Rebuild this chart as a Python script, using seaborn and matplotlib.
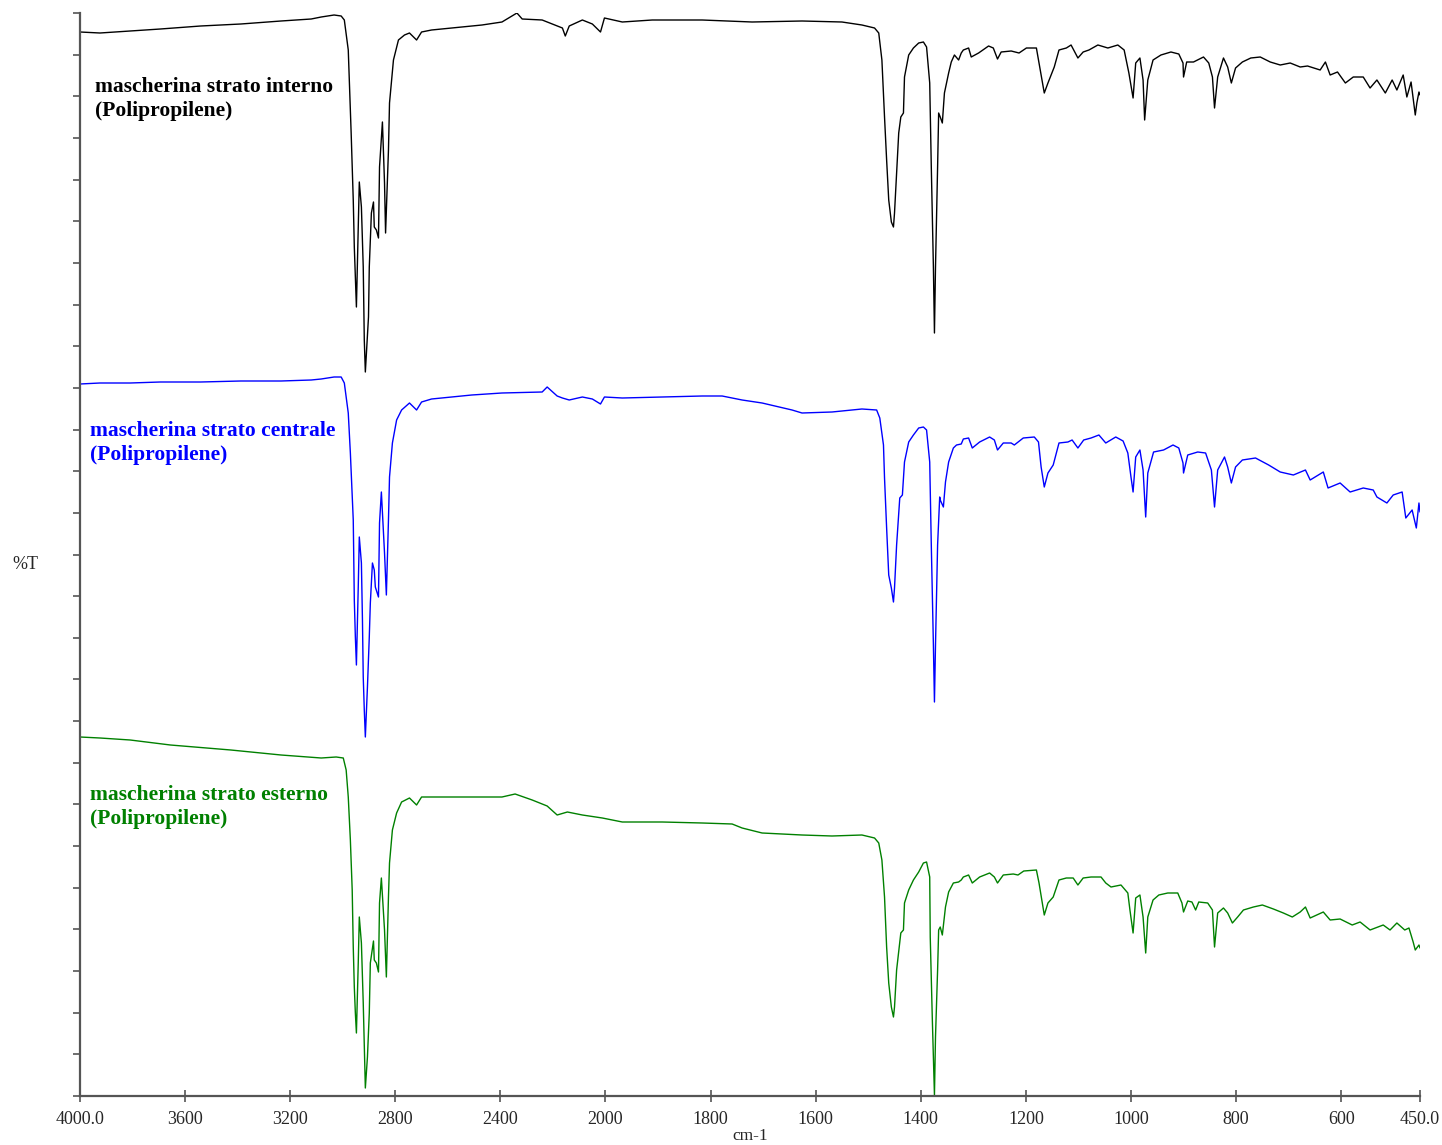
import matplotlib
matplotlib.use('Agg')
import matplotlib.pyplot as plt
import pandas as pd
import seaborn as sns
import numpy as np

# wavenumber (cm-1) / %T values (stacked, arbitrary offset)
wn_int = [4000, 3924, 3809, 3694, 3541, 3388, 3235, 3120, 3082, 3033, 3006, 2994, 2979, 2968, 2960, 2956,
          2948, 2937, 2929, 2922, 2918, 2914, 2902, 2899, 2891, 2883, 2880, 2872, 2864, 2860, 2849, 2841,
          2837, 2826, 2822, 2807, 2788, 2765, 2746, 2719, 2700, 2662, 2585, 2470, 2394, 2356, 2337, 2317,
          2241, 2164, 2153, 2138, 2088, 2050, 2019, 2004, 1968, 1911, 1816, 1721, 1626, 1550, 1512, 1488,
          1480, 1474, 1469, 1465, 1461, 1456, 1452, 1450, 1446, 1442, 1438, 1433, 1431, 1423, 1414, 1404,
          1395, 1389, 1383, 1380, 1376, 1374, 1372, 1368, 1366, 1363, 1359, 1355, 1347, 1342, 1336, 1328,
          1323, 1319, 1309, 1304, 1290, 1271, 1262, 1254, 1247, 1228, 1213, 1199, 1180, 1175, 1165, 1158,
          1146, 1137, 1123, 1114, 1101, 1091, 1080, 1063, 1044, 1025, 1013, 1004, 996, 991, 983, 977,
          974, 968, 958, 943, 924, 909, 901, 900, 894, 881, 862, 852, 845, 841, 835, 824,
          816, 809, 801, 788, 772, 754, 735, 716, 697, 678, 664, 640, 630, 621, 607, 592,
          577, 558, 545, 532, 516, 503, 494, 482, 475, 467, 459, 456, 452, 450]
t_int = [106.4, 106.3, 106.5, 106.7, 107.0, 107.2, 107.5, 107.7, 107.9, 108.1, 108.0, 107.6, 104.6, 96.3, 89.6, 84.9,
         78.9, 91.4, 88.9, 82.9, 75.6, 72.4, 77.9, 82.9, 88.3, 89.4, 86.9, 86.6, 85.8, 92.9, 97.4, 91.3,
         86.3, 94.6, 99.3, 103.6, 105.6, 106.1, 106.3, 105.6, 106.4, 106.6, 106.8, 107.1, 107.4, 108.0, 108.3, 107.7,
         107.6, 106.8, 106.0, 107.0, 107.6, 107.2, 106.4, 107.8, 107.4, 107.6, 107.6, 107.4, 107.5, 107.4, 107.1, 106.8,
         106.3, 103.6, 97.9, 93.6, 89.6, 87.4, 86.9, 88.3, 92.3, 96.3, 97.9, 98.3, 101.9, 104.1, 104.8, 105.3,
         105.4, 104.9, 101.3, 92.9, 82.9, 76.3, 82.9, 92.9, 98.3, 97.9, 97.3, 100.3, 102.3, 103.4, 104.1, 103.6,
         104.3, 104.6, 104.8, 103.9, 104.3, 105.0, 104.8, 103.7, 104.4, 104.5, 104.3, 104.8, 104.8, 103.3, 100.3, 101.3,
         102.9, 104.6, 104.8, 105.1, 103.8, 104.4, 104.6, 105.1, 104.8, 105.1, 104.6, 102.3, 99.8, 103.3, 103.8, 101.6,
         97.6, 101.6, 103.6, 104.1, 104.4, 104.2, 103.3, 101.9, 103.4, 103.4, 103.9, 103.3, 101.9, 98.8, 101.9, 103.8,
         102.9, 101.3, 102.8, 103.4, 103.8, 103.9, 103.4, 103.1, 103.3, 102.9, 103.0, 102.6, 103.4, 102.1, 102.4, 101.3,
         101.9, 101.9, 100.8, 101.6, 100.3, 101.6, 100.6, 102.1, 99.9, 101.4, 98.1, 99.3, 100.4, 100.1]

wn_cen = [4000, 3924, 3809, 3694, 3541, 3388, 3235, 3120, 3082, 3033, 3006, 2994, 2979, 2971, 2960, 2956,
          2952, 2948, 2941, 2937, 2929, 2925, 2922, 2918, 2914, 2906, 2899, 2895, 2887, 2880, 2876, 2864,
          2860, 2853, 2841, 2834, 2826, 2822, 2811, 2795, 2776, 2746, 2719, 2700, 2662, 2509, 2394, 2241,
          2222, 2184, 2164, 2138, 2088, 2050, 2019, 2004, 1968, 1892, 1816, 1778, 1740, 1702, 1645, 1626,
          1569, 1512, 1484, 1478, 1471, 1469, 1465, 1461, 1456, 1452, 1450, 1446, 1440, 1435, 1431, 1423,
          1414, 1404, 1395, 1389, 1383, 1380, 1376, 1374, 1372, 1368, 1364, 1363, 1357, 1353, 1347, 1338,
          1332, 1323, 1319, 1309, 1302, 1288, 1269, 1260, 1254, 1243, 1228, 1222, 1205, 1184, 1176, 1171,
          1165, 1158, 1148, 1137, 1120, 1112, 1101, 1090, 1076, 1061, 1048, 1029, 1015, 1006, 1000, 996,
          991, 983, 977, 972, 968, 957, 938, 920, 909, 901, 900, 892, 873, 858, 847, 841,
          835, 822, 816, 809, 801, 788, 763, 738, 716, 691, 668, 659, 634, 625, 602, 583,
          558, 539, 532, 513, 501, 484, 477, 465, 457, 452, 450]
t_cen = [71.2, 71.3, 71.3, 71.4, 71.4, 71.5, 71.5, 71.6, 71.7, 71.9, 71.9, 71.3, 68.3, 64.3, 57.6, 49.6,
         45.9, 43.1, 50.9, 55.9, 53.3, 47.6, 41.9, 38.6, 35.9, 40.9, 45.9, 49.3, 53.3, 52.6, 50.9, 49.9,
         57.3, 60.4, 54.3, 50.1, 57.6, 61.9, 65.3, 67.6, 68.6, 69.3, 68.6, 69.4, 69.7, 70.1, 70.3, 70.4,
         70.9, 70.0, 69.8, 69.6, 69.9, 69.7, 69.2, 69.9, 69.8, 69.9, 70.0, 70.0, 69.6, 69.3, 68.6, 68.3,
         68.4, 68.7, 68.6, 67.8, 65.1, 61.8, 56.8, 52.1, 50.8, 49.4, 50.8, 55.1, 59.8, 60.1, 63.4, 65.4,
         66.1, 66.8, 66.9, 66.6, 63.4, 55.1, 45.1, 39.4, 45.1, 55.1, 59.9, 59.6, 58.9, 61.4, 63.4, 64.8,
         65.1, 65.2, 65.7, 65.8, 64.8, 65.4, 65.9, 65.6, 64.6, 65.3, 65.3, 65.1, 65.8, 65.9, 65.4, 62.9,
         60.9, 62.3, 63.1, 65.3, 65.4, 65.6, 64.8, 65.6, 65.8, 66.1, 65.3, 65.9, 65.5, 64.3, 61.9, 60.4,
         63.9, 64.6, 62.6, 57.9, 62.3, 64.4, 64.6, 65.1, 64.8, 63.3, 62.3, 64.1, 64.4, 64.3, 62.6, 58.9,
         62.6, 63.9, 62.9, 61.3, 62.9, 63.6, 63.8, 63.1, 62.4, 62.1, 62.6, 61.6, 62.4, 60.8, 61.3, 60.4,
         60.8, 60.6, 59.9, 59.3, 60.1, 60.4, 57.8, 58.6, 56.8, 59.3, 58.4]

wn_est = [4000, 3924, 3809, 3656, 3426, 3235, 3082, 3025, 2998, 2987, 2979, 2971, 2964, 2960, 2956, 2952,
          2948, 2941, 2937, 2929, 2922, 2918, 2914, 2906, 2899, 2895, 2883, 2880, 2872, 2864, 2860, 2853,
          2841, 2834, 2826, 2822, 2811, 2795, 2776, 2746, 2719, 2700, 2662, 2509, 2394, 2344, 2279, 2222,
          2184, 2145, 2088, 2012, 1968, 1892, 1816, 1759, 1740, 1702, 1626, 1569, 1512, 1488, 1480, 1474,
          1469, 1465, 1461, 1456, 1452, 1450, 1446, 1438, 1433, 1431, 1423, 1414, 1404, 1395, 1389, 1383,
          1382, 1378, 1374, 1372, 1368, 1366, 1363, 1359, 1353, 1347, 1338, 1328, 1323, 1319, 1309, 1302,
          1288, 1269, 1260, 1254, 1243, 1224, 1215, 1204, 1180, 1175, 1165, 1158, 1148, 1137, 1123, 1110,
          1101, 1091, 1076, 1057, 1048, 1038, 1019, 1006, 1002, 996, 991, 983, 977, 972, 968, 958,
          947, 930, 911, 903, 900, 892, 884, 877, 871, 854, 845, 841, 835, 824, 816, 807,
          797, 786, 767, 750, 729, 710, 693, 678, 668, 659, 634, 621, 602, 579, 564, 545,
          520, 507, 494, 479, 471, 463, 459, 452, 450]
t_est = [35.9, 35.8, 35.6, 35.1, 34.6, 34.1, 33.8, 33.9, 33.8, 32.6, 29.9, 25.6, 20.6, 14.9, 10.9, 8.3,
         6.3, 13.3, 17.9, 15.3, 9.3, 4.9, 0.8, 3.9, 8.3, 13.3, 15.5, 13.6, 13.3, 12.4, 19.3, 21.8,
         16.6, 11.9, 19.9, 23.3, 26.6, 28.3, 29.4, 29.8, 29.1, 29.9, 29.9, 29.9, 29.9, 30.2, 29.6, 29.0,
         28.1, 28.4, 28.1, 27.8, 27.4, 27.4, 27.3, 27.2, 26.8, 26.3, 26.1, 26.0, 26.1, 25.8, 25.3, 23.6,
         19.9, 14.9, 11.3, 8.9, 7.9, 8.9, 12.6, 16.3, 16.6, 19.3, 20.6, 21.6, 22.4, 23.3, 23.4, 21.9,
         15.9, 7.6, 0.1, 5.9, 12.6, 16.6, 16.9, 16.1, 18.9, 20.4, 21.3, 21.4, 21.6, 21.9, 22.1, 21.3,
         21.9, 22.3, 21.9, 21.3, 22.1, 22.2, 22.1, 22.5, 22.6, 21.3, 18.1, 19.3, 19.9, 21.6, 21.8, 21.8,
         21.1, 21.8, 21.9, 21.9, 21.3, 20.9, 21.1, 20.3, 18.6, 16.3, 19.8, 20.1, 17.9, 14.3, 17.9, 19.6,
         20.1, 20.3, 20.3, 19.3, 18.4, 19.5, 19.4, 18.6, 19.4, 19.3, 18.6, 14.9, 18.3, 18.8, 18.3, 17.3,
         17.9, 18.6, 18.9, 19.1, 18.7, 18.3, 17.9, 18.4, 18.9, 17.8, 18.4, 17.6, 17.7, 17.1, 17.4, 16.6,
         17.1, 16.6, 17.3, 16.6, 16.8, 15.4, 14.6, 15.1, 14.8]

names = ['interno', 'centrale', 'esterno']
labels = ['mascherina strato interno\n(Polipropilene)',
          'mascherina strato centrale\n(Polipropilene)',
          'mascherina strato esterno\n(Polipropilene)']
colors = ['black', '#0000ff', '#008000']

xticks = [4000, 3600, 3200, 2800, 2400, 2000, 1800, 1600, 1400, 1200, 1000, 800, 600, 450]
xticklabels = ['4000.0', '3600', '3200', '2800', '2400', '2000', '1800', '1600', '1400',
               '1200', '1000', '800', '600', '450.0']

df = pd.concat([
    pd.DataFrame({'wn': wn_int, 'T': t_int, 'layer': 'interno'}),
    pd.DataFrame({'wn': wn_cen, 'T': t_cen, 'layer': 'centrale'}),
    pd.DataFrame({'wn': wn_est, 'T': t_est, 'layer': 'esterno'}),
])

sns.set_style('ticks')
plt.rcParams['font.family'] = ['Liberation Serif', 'DejaVu Serif']

fig = plt.figure(figsize=(14.42, 11.45), dpi=100)
ax = fig.add_axes([80 / 1442, 49 / 1145, 1340 / 1442, 1083 / 1145])

sns.lineplot(data=df, x='wn', y='T', hue='layer', hue_order=names, palette=colors,
             estimator=None, sort=True, linewidth=1.0, legend=False, ax=ax)


# spectrometer style axis: 2x expansion below 2000 cm-1
def fwd(x):
    x = np.asarray(x, dtype=float)
    return np.where(x >= 2000, x, 2 * x - 2000)


def inv(y):
    y = np.asarray(y, dtype=float)
    return np.where(y >= 2000, y, (y + 2000) / 2)


ax.set_xscale('function', functions=(fwd, inv))
ax.set_xlim(4000, 450)
ax.set_ylim(0, 108.3)
ax.set_xticks(xticks)
ax.set_xticklabels(xticklabels, fontsize=13)
ax.set_yticks(np.linspace(0, 108.3, 27))
ax.set_yticklabels([])
ax.minorticks_off()
ax.tick_params(axis='x', direction='inout', length=9, width=1.2, color='#555555', pad=6)
ax.tick_params(axis='y', direction='out', length=5, width=1.2, color='#555555')
ax.set_xlabel('cm-1', fontsize=12.5, labelpad=0)
ax.set_ylabel('')
sns.despine(ax=ax)
for s in ['left', 'bottom']:
    ax.spines[s].set_color('#555555')
    ax.spines[s].set_linewidth(1.6)

fig.text(12 / 1442, 1 - 564 / 1145, '%T', fontsize=13, ha='left', va='center')

label_pos = [(95, 99), (90, 443), (90, 807)]
for (px, py), lab, c in zip(label_pos, labels, colors):
    fig.text(px / 1442, 1 - py / 1145, lab, color=c, fontsize=15.5, fontweight='bold',
             ha='left', va='center', linespacing=1.32)

fig.savefig('out.png', dpi=100)
